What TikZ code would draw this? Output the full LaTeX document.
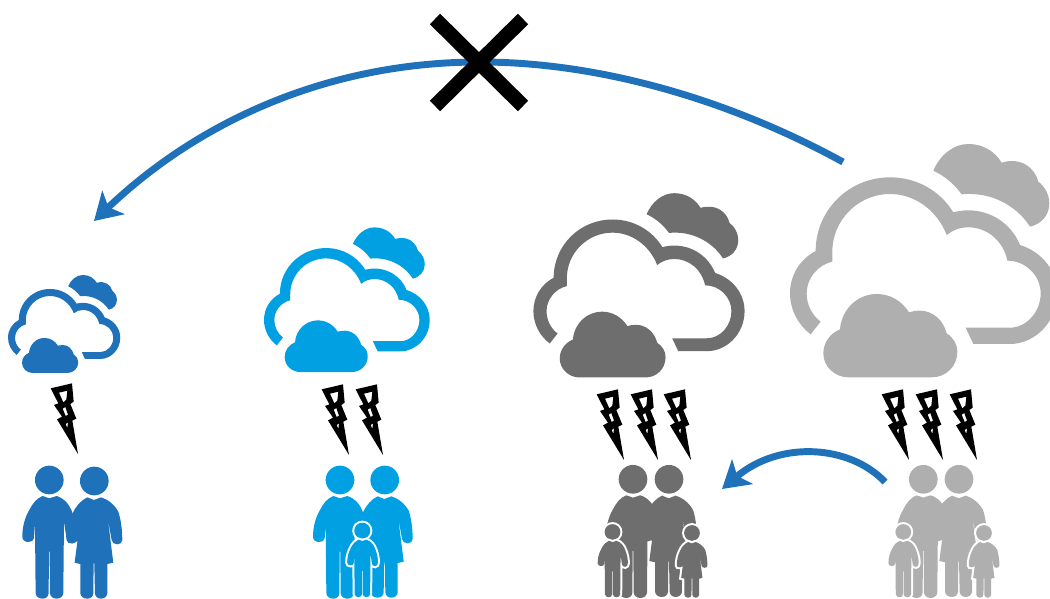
\documentclass[tikz,border=0pt]{standalone}
\usetikzlibrary{arrows.meta}
\definecolor{iconblue}{RGB}{31,114,186}
\definecolor{iconcyan}{RGB}{0,160,227}
\definecolor{icondark}{RGB}{110,110,110}
\definecolor{iconlight}{RGB}{175,175,175}
\tikzset{every picture/.style={line width=0.75pt},
iconunit/.style={xscale=1/3,yscale=-1/3},
flowarrow/.style={draw=iconblue,line width=5.2pt,-{Stealth[length=20pt,width=24pt,inset=5pt]}},
crossbar/.style={draw=black,line width=11pt},
pics/cloud/.style={code={
  %Shape: outline cloud
  \path [pic actions,iconunit] (92,583) .. controls (55,555) and (30,510) .. (30,460) .. controls (30,405) and (60,358) .. (107,333) .. controls (107,210) and (207,112) .. (330,112) .. controls (410,112) and (480,152) .. (520,217) .. controls (535,213) and (550,211) .. (565,211) .. controls (635,211) and (695,253) .. (720,315) .. controls (785,335) and (832,392) .. (832,460) .. controls (832,545) and (765,612) .. (690,612) -- (580,612) -- (557,563) -- (690,563) .. controls (740,563) and (782,515) .. (782,460) .. controls (782,408) and (738,362) .. (682,362) .. controls (670,303) and (622,262) .. (565,262) .. controls (540,262) and (518,270) .. (500,285) .. controls (472,212) and (405,162) .. (330,162) .. controls (235,162) and (157,240) .. (157,335) -- (157,365) .. controls (113,375) and (80,415) .. (80,460) .. controls (80,495) and (97,527) .. (122,545) -- cycle ;
  %Shape: solid cloud below
  \path [pic actions,iconunit] (205,712) .. controls (165,712) and (130,680) .. (130,640) .. controls (130,608) and (150,580) .. (180,568) .. controls (185,505) and (235,462) .. (290,462) .. controls (330,462) and (365,482) .. (387,517) .. controls (398,513) and (408,512) .. (420,512) .. controls (458,512) and (490,540) .. (500,580) .. controls (520,593) and (532,612) .. (532,635) .. controls (532,680) and (497,712) .. (455,712) -- cycle ;
  %Shape: solid cloud behind
  \path [pic actions,iconunit] (460,92) .. controls (480,45) and (520,12) .. (565,12) .. controls (610,12) and (645,35) .. (665,68) .. controls (725,50) and (765,85) .. (775,125) .. controls (795,140) and (808,165) .. (808,190) .. controls (808,225) and (785,252) .. (750,260) .. controls (705,190) and (625,155) .. (545,163) .. controls (525,135) and (495,108) .. (460,92) -- cycle ;
}},
pics/bolt/.style={code={
  \fill [black,even odd rule,iconunit] (-82,-197) -- (-18,-212) -- (-13,-157) -- (-23,-150) -- (-5,-106) -- (-17,-100) -- (0,0) -- (-63,-104) -- (-48,-112) -- (-72,-147) -- (-59,-152) -- cycle
    (-57,-184) -- (-32,-190) -- (-35,-163) -- (-44,-155) -- cycle
    (-46,-136) -- (-38,-141) -- (-30,-118) -- (-37,-114) -- cycle
    (-37,-90) -- (-30,-95) -- (-32,-78) -- cycle ;
}},
pics/man/.style={code={
  \path [pic actions,iconunit] (0,0) circle (43) ;
  \path [pic actions,iconunit] (-20,48) -- (0,55) -- (22,48) .. controls (45,55) and (62,75) .. (70,100) .. controls (78,120) and (84,145) .. (84,170) .. controls (84,182) and (77,190) .. (69,190) .. controls (60,190) and (53,185) .. (52,178) -- (44,125) -- (42,340) .. controls (41,350) and (32,356) .. (22,356) .. controls (12,356) and (3,350) .. (2,340) -- (1,215) -- (-1,215) -- (-2,340) .. controls (-3,350) and (-10,356) .. (-20,356) .. controls (-31,356) and (-40,350) .. (-41,340) -- (-43,130) -- (-46,175) .. controls (-47,182) and (-54,186) .. (-63,186) .. controls (-73,186) and (-81,180) .. (-81,170) .. controls (-81,145) and (-75,115) .. (-60,90) .. controls (-50,70) and (-38,55) .. (-20,48) -- cycle ;
}},
pics/woman/.style={code={
  \path [pic actions,iconunit] (0,0) circle (43) ;
  \path [pic actions,iconunit] (-21,49) -- (-1,57) -- (20,49) .. controls (40,55) and (60,70) .. (72,92) .. controls (80,115) and (84,150) .. (84,177) .. controls (84,185) and (77,190) .. (69,190) .. controls (60,190) and (53,185) .. (52,177) -- (40,110) -- (57,245) -- (39,249) -- (39,337) .. controls (38,347) and (30,353) .. (20,353) .. controls (10,353) and (3,347) .. (2,337) -- (0,247) -- (-2,247) -- (-3,337) .. controls (-4,347) and (-11,353) .. (-21,353) .. controls (-32,353) and (-41,347) .. (-42,337) -- (-42,249) -- (-59,245) -- (-42,115) -- (-48,172) .. controls (-50,182) and (-57,187) .. (-66,187) .. controls (-76,187) and (-83,185) .. (-83,177) .. controls (-83,150) and (-78,125) .. (-65,97) .. controls (-55,75) and (-40,58) .. (-21,49) -- cycle ;
}},
pics/boy/.style={code={
  \path [preaction={draw=white,line width=3pt},pic actions,iconunit] (0,0) circle (43) ;
  \path [preaction={draw=white,line width=3pt},pic actions,iconunit] (-20,48) -- (0,55) -- (22,48) .. controls (45,55) and (62,75) .. (70,100) .. controls (78,120) and (84,145) .. (84,170) .. controls (84,182) and (77,190) .. (69,190) .. controls (60,190) and (53,185) .. (52,178) -- (44,125) -- (42,340) .. controls (41,350) and (32,356) .. (22,356) .. controls (12,356) and (3,350) .. (2,340) -- (2,215) -- (-2,215) -- (-2,340) .. controls (-3,350) and (-10,356) .. (-20,356) .. controls (-31,356) and (-40,350) .. (-41,340) -- (-43,130) -- (-46,175) .. controls (-47,182) and (-54,186) .. (-63,186) .. controls (-73,186) and (-81,180) .. (-81,170) .. controls (-81,145) and (-75,115) .. (-60,90) .. controls (-50,70) and (-38,55) .. (-20,48) -- cycle ;
}},
pics/girl/.style={code={
  \path [preaction={draw=white,line width=3pt},pic actions,iconunit] (0,0) circle (43) ;
  \path [preaction={draw=white,line width=3pt},pic actions,iconunit] (-21,49) -- (-1,57) -- (20,49) .. controls (40,55) and (60,70) .. (72,92) .. controls (80,115) and (84,150) .. (84,177) .. controls (84,185) and (77,190) .. (69,190) .. controls (60,190) and (53,185) .. (52,177) -- (40,110) -- (57,245) -- (39,249) -- (39,337) .. controls (38,347) and (30,353) .. (20,353) .. controls (10,353) and (3,347) .. (2,337) -- (2,247) -- (-2,247) -- (-3,337) .. controls (-4,347) and (-11,353) .. (-21,353) .. controls (-32,353) and (-41,347) .. (-42,337) -- (-42,249) -- (-59,245) -- (-42,115) -- (-48,172) .. controls (-50,182) and (-57,187) .. (-66,187) .. controls (-76,187) and (-83,185) .. (-83,177) .. controls (-83,150) and (-78,125) .. (-65,97) .. controls (-55,75) and (-40,58) .. (-21,49) -- cycle ;
}}}

\begin{document}
\begin{tikzpicture}[x=0.75pt,y=0.75pt,yscale=-1,xscale=1]
\useasboundingbox (0,0) rectangle (1050,599);
\clip (0,0) rectangle (1050,599);

%Shape: Clouds
\pic [fill=iconblue,scale=0.42] at (3.8,273.3) {cloud};
\pic [fill=iconcyan,scale=0.62] at (257.8,224.9) {cloud};
\pic [fill=icondark,scale=0.79] at (525.5,190) {cloud};
\pic [fill=iconlight] at (780,140) {cloud};

%Shape: Bolts
\pic at (78,454) {bolt};
\foreach \boltx in {349,383} {\pic at (\boltx,455) {bolt};}
\foreach \boltx in {624,658,691} {\pic at (\boltx,460) {bolt};}
\foreach \boltx in {909,943,977} {\pic at (\boltx,460) {bolt};}

%Shape: People
\pic [fill=iconblue] at (49.3,480) {man};
\pic [fill=iconblue] at (94.3,481) {woman};
\pic [fill=iconcyan] at (340,480) {man};
\pic [fill=iconcyan] at (384.7,480) {woman};
\pic [fill=iconcyan,scale=0.56] at (362.3,530.7) {boy};
\pic [fill=icondark] at (633,479.3) {man};
\pic [fill=icondark] at (669,479.3) {woman};
\pic [fill=icondark,scale=0.55] at (612.5,532) {boy};
\pic [fill=icondark,scale=0.55] at (692,533) {girl};
\pic [fill=iconlight] at (923.3,479.3) {man};
\pic [fill=iconlight] at (959,479.3) {woman};
\pic [fill=iconlight,scale=0.55] at (903.3,532) {boy};
\pic [fill=iconlight,scale=0.55] at (984,533) {girl};

%Straight Lines
\coordinate (crossNW) at (435,19);
\coordinate (crossSE) at (523,106);
\coordinate (crossNE) at (523,19);
\coordinate (crossSW) at (435,106);
\coordinate (longStart) at (843,162);
\coordinate (longTop) at (480,62);
\coordinate (longEnd) at (94,221);
\coordinate (shortStart) at (885,482);
\coordinate (shortEnd) at (722,489);

\draw [flowarrow] (longStart) .. controls (730,100) and (600,62) .. (longTop) .. controls (330,62) and (200,120) .. (longEnd) ;
\draw [flowarrow] (shortStart) .. controls (850,445) and (780,440) .. (shortEnd) ;
\draw [crossbar] (crossNW) -- (crossSE) ;
\draw [crossbar] (crossNE) -- (crossSW) ;

\end{tikzpicture}
\end{document}
